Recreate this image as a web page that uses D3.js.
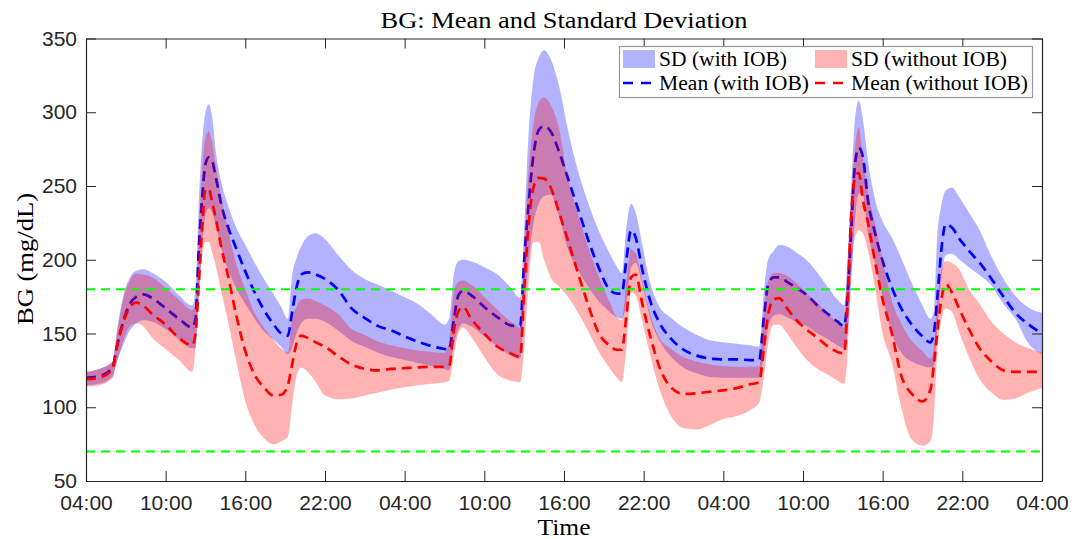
<!DOCTYPE html>
<html>
<head>
<meta charset="utf-8">
<script src="https://cdn.jsdelivr.net/npm/d3@7"></script>
<style>
  body { margin: 0; background: #fff; }
  svg { display: block; }
  .axis text { font-family: "Liberation Sans", Arial, sans-serif; font-size: 21px; fill: #262626; }
  .axis path, .axis line { stroke: #262626; }
  .serif { font-family: "Liberation Serif", "DejaVu Serif", serif; fill: #000; }
</style>
</head>
<body>
<div id="chart"></div>
<script>
// hours after 04:00 on day 1
const hours = [
  0, 1, 2, 2.3, 2.8, 3.3, 3.8, 4.3, 5, 6, 7, 8,
  8.25, 8.5, 8.75, 9, 9.25, 9.5, 9.8, 10.2, 10.7, 11.3, 12, 12.7, 13.4, 14.1, 14.7,
  15.2, 15.5, 15.85, 16.2, 16.7, 17.3, 18, 19, 20, 21, 22, 23, 24, 25, 26, 27,
  27.35, 27.7, 28.05, 28.4, 29, 30, 31, 32,
  32.7, 33, 33.3, 33.7, 34.1, 34.5, 35, 35.6, 36.3, 37, 37.8, 38.6, 39.4, 40,
  40.35, 40.7, 41.05, 41.4, 41.9, 42.5, 43.2, 44, 45, 46, 47, 48, 49, 50,
  50.7, 51.05, 51.4, 51.8, 52.2, 52.8, 53.5, 54.3, 55.1, 55.9, 56.6,
  57.1, 57.35, 57.6, 57.9, 58.2, 58.5, 58.9, 59.4, 60, 60.7, 61.4, 62.2, 63, 63.6,
  63.85, 64.1, 64.4, 64.75, 65.2, 65.8, 66.5, 67.3, 68.2, 69.1, 70, 71, 72
];

const meanWithIOB = [
  120, 121, 127, 140, 158, 170, 175, 176.5, 174, 167, 160, 154,
  160, 208, 242, 265, 269.5, 267, 255, 237, 222, 208, 192, 178, 166, 156.5, 150,
  148.5, 163, 181, 190, 191.5, 190, 187, 179.5, 167, 160.5, 155, 152, 148, 144.5, 141.5, 139.5,
  139, 159, 176, 179, 176, 168, 161, 155.5,
  155, 199, 234, 271, 288, 290.5, 287, 274, 255, 236, 214, 195, 180, 177,
  177, 200, 220, 215, 193, 172, 157, 147, 139, 135, 133, 132.5, 132.5, 132,
  132, 160, 184, 188, 188, 185, 181, 176, 169, 163, 158,
  155, 175, 215, 263, 276, 270, 240, 219, 199, 181, 167, 156, 148, 144,
  150, 172, 205, 224, 222, 214, 206, 198, 187, 175, 164, 156, 150
];
const highWithIOB = [
  124, 126, 131, 150, 175, 188, 192.5, 193.5, 191, 185, 176, 169,
  180, 240, 280, 300, 305.5, 297, 272, 252, 237, 222, 210, 198, 187, 177, 168,
  160, 188, 201, 209, 216, 218, 214, 203, 193, 187, 183, 179, 174.5, 170, 163, 156,
  160, 190, 199, 200, 199, 195, 190, 181,
  174, 222, 280, 323, 337, 342, 336, 319, 288, 262, 239, 220, 205, 195,
  191, 222, 238, 232, 210, 184, 168, 161, 154, 149, 145.5, 144, 143, 142,
  141, 178, 201, 206, 210, 209, 205, 199.5, 191, 181, 173,
  169, 200, 245, 294, 308, 296, 267, 242, 226, 215, 201, 184, 169, 160,
  165, 215, 236, 247, 249, 242, 232, 220, 202, 187, 175.5, 167.5, 164
];
const lowWithIOB = [
  115, 116, 121, 130, 142, 152, 157, 159, 158, 153, 146, 140,
  140, 175, 210, 230, 235, 232, 222, 207, 193, 181, 170, 160, 151.5, 146, 141,
  136, 140, 150, 157, 160, 160, 158, 152, 145, 141, 137, 134, 132, 130, 128, 126,
  125, 142, 153, 157, 155, 148, 141, 135,
  133, 165, 195, 225, 238, 243, 244, 230, 207, 194, 182, 172, 165, 161,
  160, 170, 195, 198, 183, 160, 145, 135, 127, 123, 120.5, 120, 120, 120,
  120, 135, 155, 162, 163, 161, 158, 155, 150, 146, 142,
  140, 150, 180, 225, 245, 244, 218, 198, 175, 150, 137, 131, 128, 127,
  128, 150, 185, 203, 204, 200, 195, 189.5, 182.5, 170, 160, 143, 136
];

const meanWithoutIOB = [
  119, 120, 126, 140, 157, 168, 171, 169, 163, 156, 147, 142,
  150, 185, 222, 248, 248, 239, 227, 208, 189, 163, 138, 122, 113.5, 108, 108.5,
  115, 128, 143, 148.5, 147, 144, 141, 134.5, 129, 126, 125, 126, 126.5, 127, 127.4, 127.4,
  128, 152, 165, 168, 160, 150, 141, 136.5,
  134, 180, 220, 249, 255.5, 255, 249, 233, 213, 192.5, 170, 150.5, 142, 139,
  139, 162, 188, 190, 170, 148, 127, 114, 109, 109.5, 110.5, 111.5, 113, 115.5,
  117, 140, 164, 173, 174, 167, 159, 152.5, 147, 141, 137.5,
  136.5, 170, 225, 255, 259, 241, 225, 200, 173, 150, 121.5, 109, 104, 112,
  128, 150, 172, 183.5, 178, 166, 153, 140, 131, 125, 124, 124, 124
];
const highWithoutIOB = [
  124, 126, 131, 148, 173, 186, 190.5, 190, 188, 181, 173, 166,
  170, 220, 262, 283, 287, 280, 262, 242, 220, 198, 180, 164, 154, 146, 140,
  137, 158, 168, 173, 173.7, 172, 169, 163, 153, 149, 144.5, 142, 140, 138.5, 137.5, 137,
  145, 178, 185, 186, 183, 175, 166, 158,
  154, 205, 255, 292, 307, 310, 305, 290, 255, 232.5, 209, 189, 172, 161,
  159, 185, 207, 204, 186, 163, 147, 140, 134, 131, 129, 128, 127.5, 127.5,
  127.5, 166, 186, 191, 191, 189, 184, 177, 170.5, 163, 157.5,
  154, 195, 237, 275, 290, 270, 246, 226, 200, 172, 157, 145, 138, 133,
  140, 170, 192, 199, 198, 193, 180, 170, 158, 150, 144, 140, 137
];
const lowWithoutIOB = [
  114, 115, 120, 130, 145, 155, 157, 155, 147, 139.5, 132, 124,
  140, 175, 202, 212, 212, 205, 195, 178, 158, 132, 104, 88, 79, 75, 77,
  80, 100, 121, 127, 124, 117, 108, 105.5, 106, 108, 110, 112, 113.5, 115, 116, 117,
  118, 135, 150, 154, 148, 134, 122, 118,
  117, 140, 180, 212, 212, 200, 188, 182, 175, 165, 152, 138, 127, 120,
  117, 140, 178, 176, 158, 135, 112, 95, 86, 85, 88, 92, 94, 98,
  103, 120, 145, 156, 156, 150, 141, 132, 126, 122, 118,
  116, 135, 185, 215, 220, 218, 206, 182, 150, 130, 100, 78, 74, 77,
  92, 135, 158, 167, 165, 150, 134, 119, 110, 105, 106, 110, 113
];

const xTickHours = d3.range(0, 73, 6);
const yTicks = [50, 100, 150, 200, 250, 300, 350];
const targetRange = [70, 180];

const width = 1074;
const height = 539;
const plot = { left: 86, right: 1042, top: 38.5, bottom: 481 };

const svg = d3.select('#chart')
  .append('svg')
  .attr('width', width)
  .attr('height', height);

const x = d3.scaleLinear().domain([0, 72]).range([plot.left, plot.right]);
const y = d3.scaleLinear().domain([50, 350]).range([plot.bottom, plot.top]);

const rows = (mean, low, high) => hours.map((h, i) => ({ h, mean: mean[i], low: low[i], high: high[i] }));
const withIOB = rows(meanWithIOB, lowWithIOB, highWithIOB);
const withoutIOB = rows(meanWithoutIOB, lowWithoutIOB, highWithoutIOB);

const band = d3.area()
  .x(d => x(d.h))
  .y0(d => y(d.low))
  .y1(d => y(d.high))
  .curve(d3.curveMonotoneX);

const meanLine = d3.line()
  .x(d => x(d.h))
  .y(d => y(d.mean))
  .curve(d3.curveMonotoneX);

const dash = '10,6';

// bands and means, blue first so the red band tints the blue mean
svg.append('path').datum(withIOB)
  .attr('d', band).attr('fill', 'blue').attr('fill-opacity', 0.3);
svg.append('path').datum(withIOB)
  .attr('d', meanLine).attr('fill', 'none')
  .attr('stroke', 'blue').attr('stroke-width', 2.7).attr('stroke-dasharray', dash);
svg.append('path').datum(withoutIOB)
  .attr('d', band).attr('fill', 'red').attr('fill-opacity', 0.3);
svg.append('path').datum(withoutIOB)
  .attr('d', meanLine).attr('fill', 'none')
  .attr('stroke', 'red').attr('stroke-width', 2.7).attr('stroke-dasharray', dash);

// target range
svg.selectAll('line.target')
  .data(targetRange)
  .enter()
  .append('line')
  .attr('class', 'target')
  .attr('x1', plot.left).attr('x2', plot.right)
  .attr('y1', d => y(d)).attr('y2', d => y(d))
  .attr('stroke', '#00ff00').attr('stroke-width', 2)
  .attr('stroke-dasharray', '9,6');

// axes, ticks pointing inward on all four sides
const timeLabel = h => `${String((4 + h) % 24).padStart(2, '0')}:00`;

svg.append('g')
  .attr('class', 'axis')
  .attr('transform', `translate(0, ${plot.bottom})`)
  .call(d3.axisBottom(x).tickValues(xTickHours).tickFormat(timeLabel)
    .tickSizeInner(-10).tickSizeOuter(0).tickPadding(14));

svg.append('g')
  .attr('class', 'axis')
  .attr('transform', `translate(0, ${plot.top})`)
  .call(d3.axisTop(x).tickValues(xTickHours).tickFormat('')
    .tickSizeInner(-10).tickSizeOuter(0));

svg.append('g')
  .attr('class', 'axis')
  .attr('transform', `translate(${plot.left}, 0)`)
  .call(d3.axisLeft(y).tickValues(yTicks)
    .tickSizeInner(-10).tickSizeOuter(0).tickPadding(9));

svg.append('g')
  .attr('class', 'axis')
  .attr('transform', `translate(${plot.right}, 0)`)
  .call(d3.axisRight(y).tickValues(yTicks).tickFormat('')
    .tickSizeInner(-10).tickSizeOuter(0));

svg.selectAll('.axis .domain').attr('stroke-width', 1.2);

// titles
svg.append('text')
  .attr('class', 'serif')
  .attr('x', (plot.left + plot.right) / 2)
  .attr('y', 28)
  .attr('text-anchor', 'middle')
  .attr('font-size', 24)
  .attr('textLength', 367)
  .attr('lengthAdjust', 'spacingAndGlyphs')
  .text('BG: Mean and Standard Deviation');

svg.append('text')
  .attr('class', 'serif')
  .attr('x', (plot.left + plot.right) / 2)
  .attr('y', 535)
  .attr('text-anchor', 'middle')
  .attr('font-size', 24)
  .attr('textLength', 53)
  .attr('lengthAdjust', 'spacingAndGlyphs')
  .text('Time');

svg.append('text')
  .attr('class', 'serif')
  .attr('transform', 'translate(33, 259) rotate(-90)')
  .attr('text-anchor', 'middle')
  .attr('font-size', 24)
  .attr('textLength', 132)
  .attr('lengthAdjust', 'spacingAndGlyphs')
  .text('BG (mg/dL)');

// legend
const legendItems = [
  { label: 'SD (with IOB)', color: 'blue', type: 'band', col: 0, row: 0, w: 128 },
  { label: 'SD (without IOB)', color: 'red', type: 'band', col: 1, row: 0, w: 156 },
  { label: 'Mean (with IOB)', color: 'blue', type: 'line', col: 0, row: 1, w: 150 },
  { label: 'Mean (without IOB)', color: 'red', type: 'line', col: 1, row: 1, w: 177 }
];
const colX = [623, 815];
const rowY = [59, 83];

const legend = svg.append('g').attr('class', 'legend');
legend.append('rect')
  .attr('x', 619.5).attr('y', 46.5)
  .attr('width', 413).attr('height', 51)
  .attr('fill', '#fff').attr('stroke', '#999').attr('stroke-width', 1.2);

const item = legend.selectAll('g.item')
  .data(legendItems)
  .enter()
  .append('g')
  .attr('class', 'item')
  .attr('transform', d => `translate(${colX[d.col]}, ${rowY[d.row]})`);

item.filter(d => d.type === 'band')
  .append('rect')
  .attr('x', 0).attr('y', -9)
  .attr('width', 32).attr('height', 18)
  .attr('fill', d => d.color).attr('fill-opacity', 0.3);

item.filter(d => d.type === 'line')
  .append('line')
  .attr('x1', 0).attr('x2', 32)
  .attr('y1', 0).attr('y2', 0)
  .attr('stroke', d => d.color).attr('stroke-width', 2.7)
  .attr('stroke-dasharray', '10,8');

item.append('text')
  .attr('class', 'serif')
  .attr('x', 36)
  .attr('y', 7)
  .attr('font-size', 20)
  .attr('textLength', d => d.w)
  .attr('lengthAdjust', 'spacingAndGlyphs')
  .text(d => d.label);
</script>
</body>
</html>
